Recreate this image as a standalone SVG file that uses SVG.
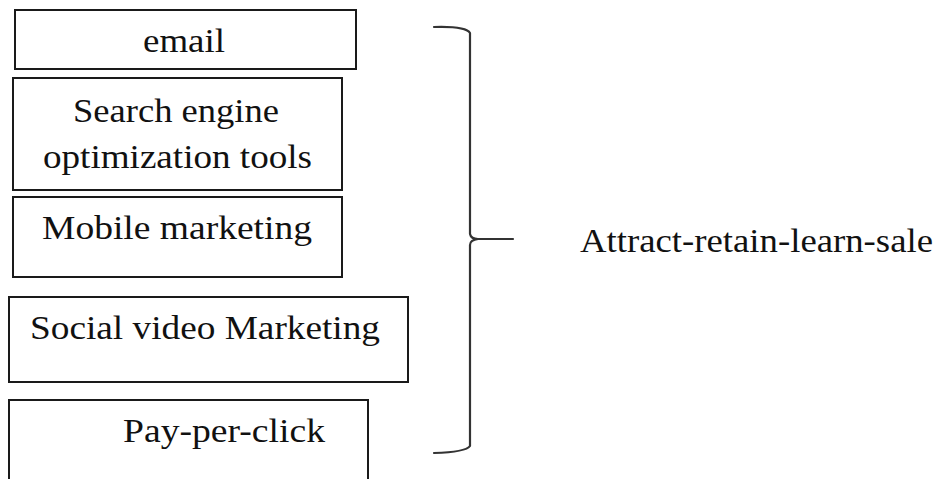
<svg xmlns="http://www.w3.org/2000/svg" width="939" height="479" viewBox="0 0 939 479">
  <style>
    .box { fill: #ffffff; stroke: #1a1a1a; stroke-width: 2; }
    .lbl { font-family: "Liberation Serif", "Times New Roman", serif; font-size: 33px; fill: #111111; }
    .brace { fill: none; stroke: #333333; stroke-width: 2.2; stroke-linecap: round; stroke-linejoin: round; }
  </style>
  <rect width="939" height="479" fill="#ffffff"/>

  <g id="node-email">
    <rect class="box" x="15" y="10" width="341" height="59"/>
    <text class="lbl" x="143" y="52" textLength="82" lengthAdjust="spacingAndGlyphs">email</text>
  </g>

  <g id="node-seo">
    <rect class="box" x="13" y="78" width="329" height="112"/>
    <text class="lbl" x="73" y="122" textLength="206" lengthAdjust="spacingAndGlyphs">Search engine</text>
    <text class="lbl" x="43" y="168" textLength="269" lengthAdjust="spacingAndGlyphs">optimization tools</text>
  </g>

  <g id="node-mobile">
    <rect class="box" x="13" y="197" width="329" height="80"/>
    <text class="lbl" x="42" y="239" textLength="270" lengthAdjust="spacingAndGlyphs">Mobile marketing</text>
  </g>

  <g id="node-social">
    <rect class="box" x="9" y="297" width="399" height="85"/>
    <text class="lbl" x="30" y="339" textLength="350" lengthAdjust="spacingAndGlyphs">Social video Marketing</text>
  </g>

  <g id="node-ppc">
    <path class="box" d="M9 485 V400 H368 V485"/>
    <text class="lbl" x="123" y="442" textLength="202" lengthAdjust="spacingAndGlyphs">Pay-per-click</text>
  </g>

  <g id="connectors">
    <!-- right curly brace grouping all channels -->
    <path class="brace" d="M434 27 Q466 26 470 33 V234 Q471 239 478 239 L513 239 M478 239 Q470 240 470 245 V446 Q466 452 434 453"/>
  </g>

  <g id="node-result">
    <text class="lbl" x="580" y="252" textLength="353" lengthAdjust="spacingAndGlyphs">Attract-retain-learn-sale</text>
  </g>
</svg>
